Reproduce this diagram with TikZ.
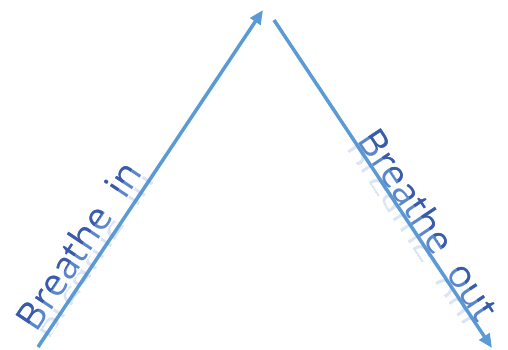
\documentclass[tikz,border=0pt]{standalone}
\usepackage{fontspec}
\setmainfont{Open Sans}
\usetikzlibrary{arrows.meta}
\definecolor{arrowblue}{HTML}{5B9BD5}
\definecolor{textlight}{HTML}{5A86CC}
\definecolor{textdark}{HTML}{3A5AAA}
\begin{document}
\begin{tikzpicture}[x=1pt,y=1pt,
  flow/.style={draw=arrowblue, line width=3.5pt, -{Triangle[length=14pt,width=12pt]}},
  lbl/.style={font=\fontsize{38}{42}\selectfont, inner sep=0pt, transform shape, anchor=base},
  refl/.style={lbl, text=textlight, opacity=0.22}]
\useasboundingbox (0,0) rectangle (508,349);
\coordinate (a1) at (38,2);
\coordinate (a2) at (263,339);
\coordinate (b1) at (274,329);
\coordinate (b2) at (492,1);
\draw[flow] (a1) -- (a2);
\draw[flow] (b1) -- (b2);
% Breathe in
\begin{scope}[shift={(89.9,96.0)}, rotate=56.27]
  \node[lbl, text=textlight] (tin) at (0,0) {Breathe\ \ in};
  \begin{scope}
    \clip (-150,12) rectangle (150,60);
    \node[lbl, text=textdark] (tind) at (0,0) {Breathe\ \ in};
  \end{scope}
  \begin{scope}
    \clip (-150,-1) rectangle (150,-13);
    \node[refl, yscale=-1] (tinr) at (0,-1) {Breathe\ \ in};
  \end{scope}
\end{scope}
% Breathe out
\begin{scope}[shift={(417.5,116.9)}, rotate=-56.39]
  \node[lbl, text=textlight] (tout) at (0,0) {Breathe\ \ out};
  \begin{scope}
    \clip (-150,12) rectangle (150,60);
    \node[lbl, text=textdark] (toutd) at (0,0) {Breathe\ \ out};
  \end{scope}
  \begin{scope}
    \clip (-150,-1) rectangle (150,-13);
    \node[refl, yscale=-1] (toutr) at (0,-1) {Breathe\ \ out};
  \end{scope}
\end{scope}
\end{tikzpicture}
\end{document}
